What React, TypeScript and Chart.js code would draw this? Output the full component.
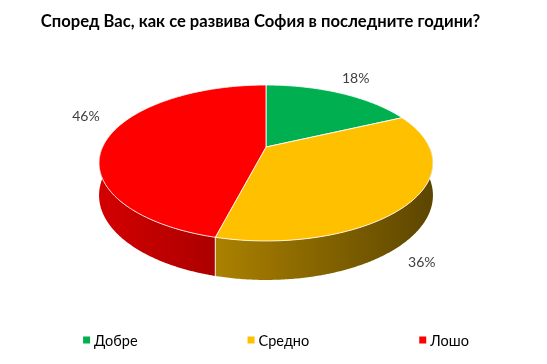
import { useEffect, useRef } from "react";
import { Chart, registerables } from "chart.js";

Chart.register(...registerables);

const TITLE = "Според Вас, как се развива София в последните години?";
const categories = ["Добре", "Средно", "Лошо"];
const values = [18, 36, 46];
const colors = ["#00B050", "#FFC000", "#FF0000"];

// 3D projection layout (perspective-tilted disc)
const CX = 266;
const CY = 147;
const RX = 163.4;
const RY = 74.7;
const PERSP = 0.205;
const DEPTH = 31;
const SIDE_SHADE: [number, number][] = [
  [0, 0.83],
  [0.35, 0.67],
  [1, 0.36],
];
const LABEL_NUDGE: [number, number][] = [
  [15, -15],
  [11, 25],
  [-22, -21],
];
const FONT = "Lato, 'Open Sans', sans-serif";

function proj(rho: number, th: number, level: number): [number, number] {
  const u = rho * Math.cos(th);
  const v = rho * Math.sin(th);
  const s = 1 / (1 - PERSP * v);
  return [CX + RX * u * s, CY + RY * v * s + level * DEPTH * s];
}

function shade(hex: string, f: number): string {
  const n = parseInt(hex.slice(1), 16);
  const r = Math.round(((n >> 16) & 255) * f);
  const g = Math.round(((n >> 8) & 255) * f);
  const b = Math.round((n & 255) * f);
  return `rgb(${r},${g},${b})`;
}

const pie3d = {
  id: "pie3d",
  beforeDatasetsDraw(chart: any) {
    const ctx: CanvasRenderingContext2D = chart.ctx;
    const meta = chart.getDatasetMeta(0);
    const arcs = meta.data.map((el: any) => el.getProps(["startAngle", "endAngle"], true));
    const bg = chart.data.datasets[0].backgroundColor as string[];
    ctx.save();

    // outer side walls (front half only)
    arcs.forEach((a: any, i: number) => {
      const lo = Math.max(a.startAngle, 0);
      const hi = Math.min(a.endAngle, Math.PI);
      if (hi <= lo) return;
      const g = ctx.createLinearGradient(CX - RX * 1.03, 0, CX + RX * 1.03, 0);
      SIDE_SHADE.forEach(([t, f]) => g.addColorStop(t, shade(bg[i], f)));
      const n = Math.max(2, Math.ceil((hi - lo) / 0.01));
      ctx.beginPath();
      for (let k = 0; k <= n; k++) {
        const [x, y] = proj(1, lo + ((hi - lo) * k) / n, 0);
        if (k === 0) ctx.moveTo(x, y);
        else ctx.lineTo(x, y);
      }
      for (let k = n; k >= 0; k--) {
        const [x, y] = proj(1, lo + ((hi - lo) * k) / n, 1);
        ctx.lineTo(x, y);
      }
      ctx.closePath();
      ctx.fillStyle = g;
      ctx.fill();
    });

    // seams on the side walls
    ctx.strokeStyle = "rgba(255,255,255,0.9)";
    ctx.lineWidth = 1;
    arcs.forEach((a: any) => {
      const th = a.startAngle;
      if (Math.sin(th) > 0.02) {
        const [x0, y0] = proj(1, th, 0);
        const [x1, y1] = proj(1, th, 1);
        ctx.beginPath();
        ctx.moveTo(x0, y0);
        ctx.lineTo(x1, y1);
        ctx.stroke();
      }
    });

    // top faces
    arcs.forEach((a: any, i: number) => {
      const lo = a.startAngle;
      const hi = a.endAngle;
      const n = Math.max(2, Math.ceil((hi - lo) / 0.01));
      ctx.beginPath();
      const [cx, cy] = proj(0, 0, 0);
      ctx.moveTo(cx, cy);
      for (let k = 0; k <= n; k++) {
        const [x, y] = proj(1, lo + ((hi - lo) * k) / n, 0);
        ctx.lineTo(x, y);
      }
      ctx.closePath();
      ctx.fillStyle = bg[i];
      ctx.fill();
      ctx.lineJoin = "round";
      ctx.strokeStyle = "rgba(255,255,255,0.85)";
      ctx.lineWidth = 1;
      ctx.stroke();
    });

    // data labels
    ctx.fillStyle = "#404040";
    ctx.font = `14px ${FONT}`;
    ctx.textAlign = "center";
    ctx.textBaseline = "middle";
    arcs.forEach((a: any, i: number) => {
      const mid = (a.startAngle + a.endAngle) / 2;
      const level = Math.sin(mid) > 0 ? 1 : 0;
      const [x, y] = proj(1, mid, level);
      const [dx, dy] = LABEL_NUDGE[i];
      ctx.fillText(`${chart.data.datasets[0].data[i]}%`, x + dx, y + dy);
    });

    ctx.restore();
    return false;
  },
  afterDraw(chart: any) {
    const ctx: CanvasRenderingContext2D = chart.ctx;
    const labels = chart.data.labels as string[];
    const bg = chart.data.datasets[0].backgroundColor as string[];
    const box = 7;
    const textGap = 4;
    const itemGap = 110;
    const y = 340;
    ctx.save();
    ctx.font = `14.5px ${FONT}`;
    ctx.textBaseline = "middle";
    ctx.textAlign = "left";
    const widths = labels.map((l) => box + textGap + ctx.measureText(l).width);
    const total = widths.reduce((s, w) => s + w, 0) + itemGap * (labels.length - 1);
    let x = 276 - total / 2;
    labels.forEach((l, i) => {
      ctx.fillStyle = bg[i];
      ctx.fillRect(x, y - box / 2, box, box);
      ctx.fillStyle = "#000000";
      ctx.fillText(l, x + box + textGap, y + 1);
      x += widths[i] + itemGap;
    });
    ctx.restore();
  },
};

export default function App() {
  const ref = useRef<HTMLCanvasElement | null>(null);
  useEffect(() => {
    if (!ref.current) return;
    const chart = new Chart(ref.current, {
      type: "pie",
      data: {
        labels: categories,
        datasets: [{ data: values, backgroundColor: colors, borderColor: "#ffffff", borderWidth: 1 }],
      },
      options: {
        responsive: false,
        animation: false,
        layout: { padding: { right: 26 } },
        plugins: {
          legend: { display: false },
          tooltip: { enabled: false },
          title: {
            display: true,
            text: TITLE,
            color: "#000000",
            font: { family: FONT, size: 16.6, weight: "bold" },
            padding: { top: 12, bottom: 10 },
          },
        },
      },
      plugins: [pie3d],
    });
    return () => chart.destroy();
  }, []);
  return (
    <div style={{ position: "absolute", left: 0, top: 0, width: 547, height: 364, background: "#fff" }}>
      <canvas ref={ref} width={547} height={364} />
    </div>
  );
}
